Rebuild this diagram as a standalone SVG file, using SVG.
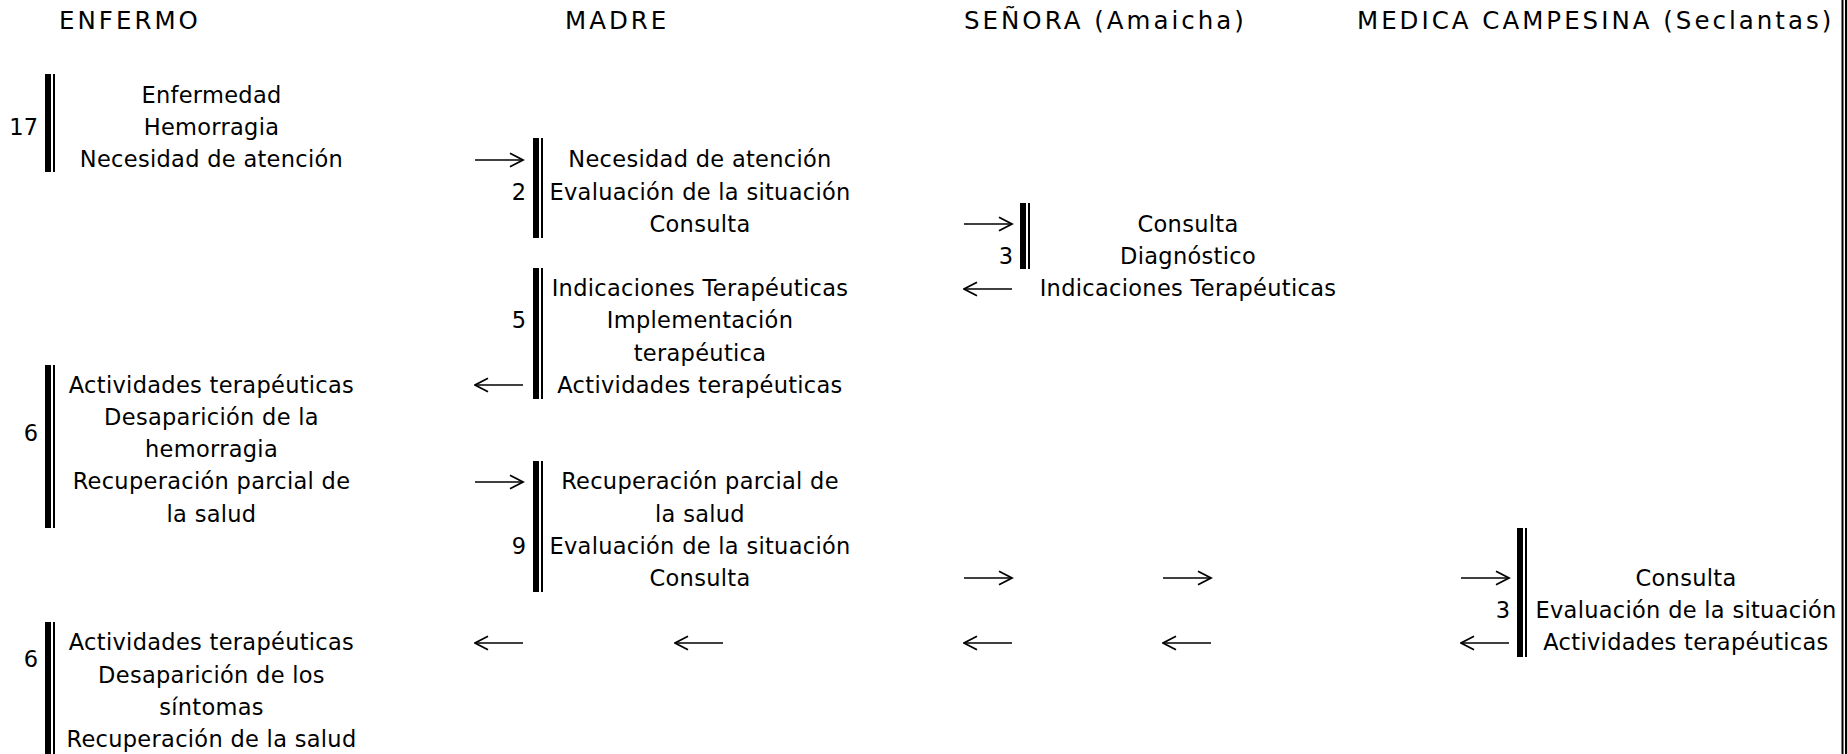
<svg xmlns="http://www.w3.org/2000/svg" width="1847" height="754" viewBox="0 0 1847 754">
<style>
  text { font-family: "DejaVu Sans", Verdana, sans-serif; fill: #000; }
  .hd { font-size: 24.5px; letter-spacing: 3px; }
  .tx { font-size: 22.5px; letter-spacing: 0.3px; text-anchor: middle; }
  .num { font-size: 22.5px; text-anchor: end; }
  .thick { fill: #000; }
  .conn line { stroke: #000; stroke-width: 1.7; marker-end: url(#ah); }
</style>
<defs>
  <marker id="ah" markerUnits="userSpaceOnUse" markerWidth="16" markerHeight="16" viewBox="0 0 16 16" refX="14.5" refY="8" orient="auto">
    <path d="M1.5,1.3 L14.5,8 L1.5,14.7" fill="none" stroke="#000" stroke-width="1.8"/>
  </marker>
</defs>
<rect width="1847" height="754" fill="#fff"/>

<g id="headers">
  <text class="hd" x="59" y="28.5">ENFERMO</text>
  <text class="hd" x="565" y="28.5">MADRE</text>
  <text class="hd" x="964" y="28.5">SEÑORA (Amaicha)</text>
  <text class="hd" x="1357" y="28.5">MEDICA CAMPESINA (Seclantas)</text>
</g>

<g id="border">
  <rect x="1841.5" y="0" width="2" height="754" class="thick"/>
  <rect x="1845" y="0" width="2" height="754" class="thick"/>
</g>

<g id="enfermo-17">
  <rect x="45" y="74" width="6" height="98" class="thick"/>
  <rect x="53" y="74" width="2" height="98" class="thick"/>
  <text class="num" x="38" y="135">17</text>
  <text class="tx" x="211.5" y="103">Enfermedad</text>
  <text class="tx" x="211.5" y="135">Hemorragia</text>
  <text class="tx" x="211.5" y="167">Necesidad de atención</text>
</g>

<g id="madre-2">
  <rect x="533" y="138" width="6" height="100" class="thick"/>
  <rect x="541" y="138" width="2" height="100" class="thick"/>
  <text class="num" x="526" y="200">2</text>
  <text class="tx" x="700" y="167">Necesidad de atención</text>
  <text class="tx" x="700" y="200">Evaluación de la situación</text>
  <text class="tx" x="700" y="232">Consulta</text>
</g>

<g id="senora-3">
  <rect x="1020" y="203" width="6" height="66" class="thick"/>
  <rect x="1028" y="203" width="2" height="66" class="thick"/>
  <text class="num" x="1013" y="264">3</text>
  <text class="tx" x="1188" y="232">Consulta</text>
  <text class="tx" x="1188" y="264">Diagnóstico</text>
  <text class="tx" x="1188" y="296">Indicaciones Terapéuticas</text>
</g>

<g id="madre-5">
  <rect x="533" y="268" width="6" height="131" class="thick"/>
  <rect x="541" y="268" width="2" height="131" class="thick"/>
  <text class="num" x="526" y="328">5</text>
  <text class="tx" x="700" y="296">Indicaciones Terapéuticas</text>
  <text class="tx" x="700" y="328">Implementación</text>
  <text class="tx" x="700" y="361">terapéutica</text>
  <text class="tx" x="700" y="393">Actividades terapéuticas</text>
</g>

<g id="enfermo-6a">
  <rect x="45" y="365" width="6" height="163" class="thick"/>
  <rect x="53" y="365" width="2" height="163" class="thick"/>
  <text class="num" x="38" y="441">6</text>
  <text class="tx" x="211.5" y="393">Actividades terapéuticas</text>
  <text class="tx" x="211.5" y="425">Desaparición de la</text>
  <text class="tx" x="211.5" y="457">hemorragia</text>
  <text class="tx" x="211.5" y="489">Recuperación parcial de</text>
  <text class="tx" x="211.5" y="522">la salud</text>
</g>

<g id="madre-9">
  <rect x="533" y="461" width="6" height="131" class="thick"/>
  <rect x="541" y="461" width="2" height="131" class="thick"/>
  <text class="num" x="526" y="554">9</text>
  <text class="tx" x="700" y="489">Recuperación parcial de</text>
  <text class="tx" x="700" y="522">la salud</text>
  <text class="tx" x="700" y="554">Evaluación de la situación</text>
  <text class="tx" x="700" y="586">Consulta</text>
</g>

<g id="medica-3">
  <rect x="1517" y="528" width="6" height="129" class="thick"/>
  <rect x="1525" y="528" width="2" height="129" class="thick"/>
  <text class="num" x="1510" y="618">3</text>
  <text class="tx" x="1686" y="586">Consulta</text>
  <text class="tx" x="1686" y="618">Evaluación de la situación</text>
  <text class="tx" x="1686" y="650">Actividades terapéuticas</text>
</g>

<g id="enfermo-6b">
  <rect x="45" y="622" width="6" height="132" class="thick"/>
  <rect x="53" y="622" width="2" height="132" class="thick"/>
  <text class="num" x="38" y="667">6</text>
  <text class="tx" x="211.5" y="650">Actividades terapéuticas</text>
  <text class="tx" x="211.5" y="683">Desaparición de los</text>
  <text class="tx" x="211.5" y="715">síntomas</text>
  <text class="tx" x="211.5" y="747">Recuperación de la salud</text>
</g>

<g id="connectors" class="conn">
  <line x1="475" y1="160" x2="523" y2="160"/>
  <line x1="964" y1="224" x2="1012" y2="224"/>
  <line x1="1012" y1="289" x2="964" y2="289"/>
  <line x1="523" y1="385" x2="475" y2="385"/>
  <line x1="475" y1="482" x2="523" y2="482"/>
  <line x1="964" y1="578" x2="1012" y2="578"/>
  <line x1="1163" y1="578" x2="1211" y2="578"/>
  <line x1="1461" y1="578" x2="1509" y2="578"/>
  <line x1="523" y1="643" x2="475" y2="643"/>
  <line x1="723" y1="643" x2="675" y2="643"/>
  <line x1="1012" y1="643" x2="964" y2="643"/>
  <line x1="1211" y1="643" x2="1163" y2="643"/>
  <line x1="1509" y1="643" x2="1461" y2="643"/>
</g>
</svg>
